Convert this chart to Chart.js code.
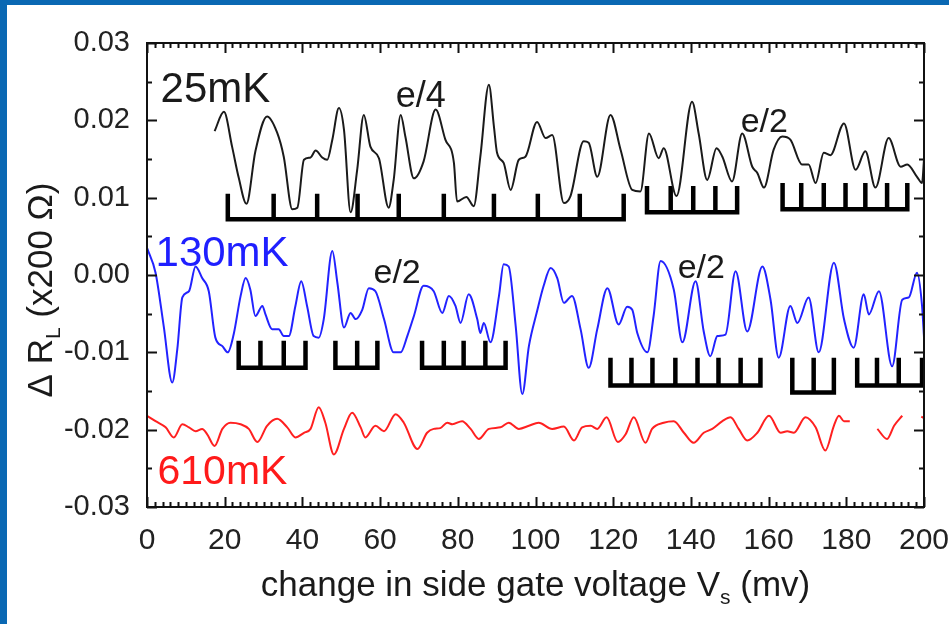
<!DOCTYPE html>
<html>
<head>
<meta charset="utf-8">
<script src="https://cdn.jsdelivr.net/npm/chart.js@4.4.1/dist/chart.umd.min.js"></script>
<style>
  html, body { margin: 0; padding: 0; background: #fff; overflow: hidden; }
  canvas { display: block; }
</style>
</head>
<body>
<canvas id="trace" width="949" height="624"></canvas>
<script>
// ── Measured traces: [gate voltage (mV), ΔR_L] ─────────────
const trace25mK = [
  [17.4, 0.0186], [19.8, 0.0211], [21.9, 0.0166], [23.6, 0.0126], [25.6, 0.0092],
  [27.9, 0.0160], [30.9, 0.0205], [33.5, 0.0184], [35.2, 0.0153], [37.4, 0.0085],
  [38.7, 0.0087], [40.4, 0.0149], [42.1, 0.0152], [43.4, 0.0161], [45.1, 0.0152],
  [46.4, 0.0149], [47.7, 0.0175], [49.4, 0.0216], [50.7, 0.0188], [52.4, 0.0081],
  [54.1, 0.0136], [55.8, 0.0207], [57.5, 0.0166], [59.7, 0.0151], [62.2, 0.0087],
  [63.5, 0.0123], [65.3, 0.0207], [66.5, 0.0179], [68.7, 0.0125], [71.2, 0.0147],
  [74.3, 0.0214], [76.8, 0.0175], [79.0, 0.0145], [79.8, 0.0095], [82.2, 0.0101],
  [84.1, 0.0089], [85.8, 0.0153], [88.0, 0.0246], [89.3, 0.0192], [90.1, 0.0158],
  [91.8, 0.0145], [93.6, 0.0110], [95.7, 0.0149], [97.4, 0.0153], [100.4, 0.0198],
  [102.6, 0.0177], [104.3, 0.0181], [107.3, 0.0093], [109.0, 0.0102], [112.4, 0.0173],
  [113.7, 0.0171], [115.9, 0.0127], [119.3, 0.0207], [121.9, 0.0162], [124.9, 0.0110],
  [127.0, 0.0108], [129.2, 0.0183], [131.7, 0.0151], [133.0, 0.0164], [136.3, 0.0102],
  [140.3, 0.0224], [142.0, 0.0183], [144.2, 0.0123], [146.6, 0.0164], [148.1, 0.0153],
  [150.6, 0.0121], [153.2, 0.0183], [155.8, 0.0140], [157.1, 0.0132], [158.8, 0.0113],
  [161.3, 0.0162], [163.5, 0.0179], [165.6, 0.0175], [168.6, 0.0143], [170.3, 0.0143],
  [172.1, 0.0119], [174.2, 0.0158], [175.9, 0.0155], [179.4, 0.0196], [182.4, 0.0136],
  [184.9, 0.0160], [187.5, 0.0113], [190.9, 0.0177], [194.0, 0.0140], [195.7, 0.0143],
  [198.2, 0.0127], [199.5, 0.0119], [200, 0.0149]
];

const trace130mK = [
  [0, 0.0035], [2.2, 0.0003], [4.3, -0.0066], [6.5, -0.0139], [7.8, -0.0096],
  [9.1, -0.0029], [10.8, -0.0021], [12.5, 0.0011], [14.2, -0.0004], [15.9, -0.0021],
  [17.6, -0.0081], [19.4, -0.0092], [20.8, -0.0100], [22.3, -0.0077], [24.1, -0.0027],
  [25.4, -0.0004], [26.6, -0.0019], [27.9, -0.0053], [29.7, -0.0040], [30.5, -0.0051],
  [32.2, -0.0070], [33.9, -0.0070], [35.2, -0.0079], [36.5, -0.0079], [38.2, -0.0040],
  [39.7, -0.0008], [41.2, -0.0040], [42.9, -0.0079], [44.2, -0.0081], [45.5, -0.0057],
  [47.7, 0.0031], [49.0, -0.0010], [50.7, -0.0068], [52.4, -0.0049], [53.7, -0.0057],
  [55.4, -0.0045], [57.1, -0.0017], [58.8, -0.0021], [61.0, -0.0057], [63.5, -0.0100],
  [65.3, -0.0100], [67.0, -0.0079], [68.7, -0.0053], [71.2, -0.0014], [73.8, -0.0021],
  [76.0, -0.0049], [77.7, -0.0027], [79.4, -0.0040], [80.7, -0.0062], [82.8, -0.0025],
  [85.0, -0.0057], [85.8, -0.0075], [86.7, -0.0062], [88.4, -0.0087], [90.6, -0.0027],
  [91.8, 0.0014], [93.1, 0.0011], [94.9, -0.0066], [96.6, -0.0154], [98.3, -0.0092],
  [100.4, -0.0047], [102.1, -0.0014], [103.9, 0.0009], [105.6, -0.0004], [107.3, -0.0036],
  [109.4, -0.0027], [111.6, -0.0070], [113.7, -0.0120], [115.9, -0.0070], [118.5, -0.0017],
  [121.4, -0.0064], [123.6, -0.0041], [124.9, -0.0045], [126.2, -0.0075], [128.8, -0.0100],
  [130.4, -0.0053], [132.2, 0.0018], [135.6, -0.0019], [137.8, -0.0087], [141.2, -0.0008],
  [143.3, -0.0073], [145.0, -0.0105], [146.8, -0.0079], [148.9, -0.0077], [151.5, 0.0005],
  [154.5, -0.0073], [158.4, 0.0011], [160.5, -0.0032], [162.6, -0.0107], [165.6, -0.0040],
  [167.4, -0.0062], [170.3, -0.0029], [172.9, -0.0100], [176.8, 0.0016], [179.4, -0.0057],
  [181.9, -0.0094], [184.5, -0.0025], [185.8, -0.0051], [188.4, -0.0021], [191.8, -0.0118],
  [194.4, -0.0032], [196.1, -0.0029], [198.2, 0.0003], [199.5, -0.0040], [200, -0.0080]
];

// null entries are gaps in the 610mK sweep
const trace610mK = [
  [0, -0.0182], [2.2, -0.0189], [4.8, -0.0197], [6.9, -0.0210], [9.1, -0.0193],
  [10.8, -0.0197], [12.5, -0.0202], [14.2, -0.0199], [15.5, -0.0206], [17.4, -0.0221],
  [19.4, -0.0199], [21.5, -0.0191], [24.1, -0.0193], [26.2, -0.0199], [28.4, -0.0216],
  [30.9, -0.0195], [33.5, -0.0186], [36.1, -0.0197], [38.2, -0.0210], [40.4, -0.0204],
  [42.1, -0.0199], [44.2, -0.0171], [45.9, -0.0191], [48.1, -0.0232], [50.7, -0.0199],
  [52.8, -0.0178], [55.0, -0.0197], [56.2, -0.0210], [58.8, -0.0195], [61.0, -0.0202],
  [64.0, -0.0180], [66.1, -0.0191], [69.6, -0.0225], [72.1, -0.0204], [73.8, -0.0199],
  [75.5, -0.0198], [77.3, -0.0191], [78.6, -0.0193], [81.1, -0.0189], [83.3, -0.0199],
  [85.4, -0.0212], [88.0, -0.0199], [91.0, -0.0197], [93.1, -0.0191], [95.7, -0.0199],
  [98.3, -0.0195], [100.8, -0.0191], [104.3, -0.0199], [107.3, -0.0196], [109.9, -0.0214],
  [112.0, -0.0197], [114.2, -0.0195], [115.9, -0.0199], [118.3, -0.0184], [121.2, -0.0216],
  [123.2, -0.0206], [125.3, -0.0184], [128.3, -0.0217], [130.0, -0.0199], [133.0, -0.0191],
  [135.6, -0.0189], [138.2, -0.0204], [140.7, -0.0217], [143.3, -0.0204], [145.5, -0.0199],
  [148.1, -0.0189], [150.2, -0.0184], [152.3, -0.0199], [154.5, -0.0214], [157.1, -0.0204],
  [160.1, -0.0182], [163.1, -0.0204], [164.8, -0.0202], [166.5, -0.0204], [169.5, -0.0184],
  [172.1, -0.0197], [174.6, -0.0227], [176.8, -0.0195], [178.1, -0.0182], [179.4, -0.0189],
  [180.9, -0.0189], [183.0, null], [188.0, -0.0199], [190.5, -0.0212], [192.3, -0.0195],
  [194.4, -0.0182], [197.0, null], [199.3, -0.0183], [200, -0.0185]
];

// ── Period combs (tick positions in mV, base / top level) ──
const combTicks = [
  [20.8, 32.6, 43.8, 54.2, 64.8, 76.4, 89.3, 100.6, 111.4, 122.7],
  [128.7, 134.8, 140.6, 146.3, 151.9],
  [163.6, 168.4, 174.2, 179.8, 184.9, 190.5, 195.7],
  [23.6, 29.2, 35.2, 40.8],
  [48.5, 54.1, 59.3],
  [70.8, 76.4, 81.5, 87.1, 92.3],
  [119.3, 124.7, 130.1, 136.0, 141.7, 147.1, 152.8, 157.9],
  [166.1, 171.6, 176.8],
  [182.8, 187.9, 193.5, 199.5]
];
const combBase = [0.0072, 0.0081, 0.0085, -0.0120, -0.0120, -0.0120, -0.0143, -0.0152, -0.0143];
const combTop  = [0.0105, 0.0115, 0.0119, -0.0085, -0.0085, -0.0085, -0.0107, -0.0107, -0.0107];

// ── Axis ticks ─────────────────────────────────────────────
const xTicks = [0, 20, 40, 60, 80, 100, 120, 140, 160, 180, 200];
const yTicks = [-0.03, -0.02, -0.01, 0.00, 0.01, 0.02, 0.03];

const FONT = "'Liberation Sans', Arial, sans-serif";
const NARROW = "'Liberation Sans Narrow', 'Liberation Sans', Arial, sans-serif";

const toPoints = arr => arr.map(([x, y]) => ({ x, y }));

function combPath(ticks, base, top) {
  const pts = [];
  ticks.forEach((t, i) => {
    pts.push({ x: t, y: top }, { x: t, y: base });
    if (i < ticks.length - 1) pts.push({ x: ticks[i + 1], y: base });
  });
  pts.push({ x: ticks[ticks.length - 1], y: top });
  return pts;
}

function curve(data, color) {
  return {
    data: toPoints(data),
    borderColor: color,
    borderWidth: 2,
    pointRadius: 0,
    cubicInterpolationMode: 'monotone',
    spanGaps: false,
  };
}

const combSets = combTicks.map((ticks, i) => ({
  data: combPath(ticks, combBase[i], combTop[i]),
  borderColor: '#000',
  borderWidth: 4.5,
  pointRadius: 0,
  tension: 0,
  borderCapStyle: 'butt',
  borderJoinStyle: 'miter',
}));

// ── Text annotations placed in data coordinates ────────────
const notes = [
  { text: '25mK',  x: 3.5,   y: 0.0224,  size: 42, color: '#1a1a1a' },
  { text: 'e/4',   x: 64.0,  y: 0.0217,  size: 36, color: '#1a1a1a' },
  { text: 'e/2',   x: 152.8, y: 0.0185,  size: 34, color: '#1a1a1a' },
  { text: '130mK', x: 2.2,   y: 0.0011,  size: 42, color: '#1f1fff' },
  { text: 'e/2',   x: 58.3,  y: -0.0010, size: 34, color: '#1a1a1a' },
  { text: 'e/2',   x: 136.6, y: -0.0004, size: 34, color: '#1a1a1a' },
  { text: '610mK', x: 2.7,   y: -0.0270, size: 41, color: '#ff1a1a' },
];

// draws "main" + subscript + "rest" starting at (0,0) centred horizontally
function drawSubscripted(ctx, main, sub, rest, size, font, subDrop) {
  const big = `${size}px ${font}`;
  const small = `${Math.round(size * 0.6)}px ${font}`;
  ctx.font = big;
  const w1 = ctx.measureText(main).width;
  const w3 = ctx.measureText(rest).width;
  ctx.font = small;
  const w2 = ctx.measureText(sub).width;
  let x = -(w1 + w2 + w3) / 2;
  ctx.textAlign = 'left';
  ctx.textBaseline = 'alphabetic';
  ctx.font = big;
  ctx.fillText(main, x, 0);
  x += w1;
  ctx.font = small;
  ctx.fillText(sub, x, subDrop);
  x += w2;
  ctx.font = big;
  ctx.fillText(rest, x, 0);
}

const framePlugin = {
  id: 'frame',
  beforeDraw(chart) {
    const { ctx, width, height } = chart;
    ctx.save();
    ctx.fillStyle = '#0a68b3';
    ctx.fillRect(0, 0, width, height);
    ctx.fillStyle = '#fff';
    ctx.fillRect(7, 5, width - 7, height - 5);
    ctx.restore();
  },
  afterDatasetsDraw(chart) {
    const { ctx, chartArea: a, scales: { x, y } } = chart;
    ctx.save();
    ctx.strokeStyle = '#111';
    ctx.lineWidth = 2;
    ctx.strokeRect(a.left, a.top, a.right - a.left, a.bottom - a.top);

    ctx.beginPath();
    for (let v = 0; v <= 200; v += 2) {
      const px = Math.round(x.getPixelForValue(v)) + 0.5;
      const len = v % 20 === 0 ? 10 : 5;
      ctx.moveTo(px, a.bottom); ctx.lineTo(px, a.bottom - len);
      ctx.moveTo(px, a.top);    ctx.lineTo(px, a.top + len);
    }
    for (let i = -6; i <= 6; i++) {
      const py = Math.round(y.getPixelForValue(i * 0.005)) + 0.5;
      const len = i % 2 === 0 ? 10 : 5;
      ctx.moveTo(a.left, py);  ctx.lineTo(a.left + len, py);
      ctx.moveTo(a.right, py); ctx.lineTo(a.right - len, py);
    }
    ctx.stroke();

    // curve labels
    ctx.textAlign = 'left';
    ctx.textBaseline = 'alphabetic';
    notes.forEach(n => {
      ctx.font = `${n.size}px ${FONT}`;
      ctx.fillStyle = n.color;
      ctx.fillText(n.text, x.getPixelForValue(n.x), y.getPixelForValue(n.y));
    });

    // axis titles
    ctx.fillStyle = '#1a1a1a';
    ctx.save();
    ctx.translate((a.left + a.right) / 2, 596);
    drawSubscripted(ctx, 'change in side gate voltage V', 's', ' (mv)', 35, NARROW, 8);
    ctx.restore();

    ctx.save();
    ctx.translate(52, 290);
    ctx.rotate(-Math.PI / 2);
    drawSubscripted(ctx, '\u0394 R', 'L', ' (x200 \u03A9)', 35, FONT, 8);
    ctx.restore();

    ctx.restore();
  }
};

new Chart(document.getElementById('trace'), {
  type: 'line',
  data: {
    datasets: [
      curve(trace25mK, '#1a1a1a'),
      curve(trace130mK, '#2222ff'),
      curve(trace610mK, '#ff2020'),
      ...combSets,
    ],
  },
  options: {
    responsive: false,
    animation: false,
    devicePixelRatio: 1,
    layout: { padding: { left: 0, right: 25, top: 43, bottom: 0 } },
    plugins: { legend: { display: false }, tooltip: { enabled: false } },
    scales: {
      x: {
        type: 'linear',
        min: 0,
        max: 200,
        afterBuildTicks: s => { s.ticks = xTicks.map(v => ({ value: v })); },
        afterFit: s => { s.height = 117; s.paddingLeft = 0; s.paddingRight = 0; },
        ticks: {
          autoSkip: false,
          maxRotation: 0,
          padding: 8,
          color: '#222',
          font: { family: NARROW, size: 30 },
        },
        grid: { display: false },
        border: { display: false },
      },
      y: {
        type: 'linear',
        min: -0.03,
        max: 0.03,
        afterBuildTicks: s => { s.ticks = yTicks.map(v => ({ value: v })); },
        afterFit: s => { s.width = 147; s.paddingTop = 0; s.paddingBottom = 0; },
        ticks: {
          padding: 9,
          color: '#222',
          font: { family: FONT, size: 29 },
          callback: v => (Math.abs(v) < 1e-9 ? '0.00' : v.toFixed(2)),
        },
        grid: { display: false },
        border: { display: false },
      },
    },
  },
  plugins: [framePlugin],
});
</script>
</body>
</html>
